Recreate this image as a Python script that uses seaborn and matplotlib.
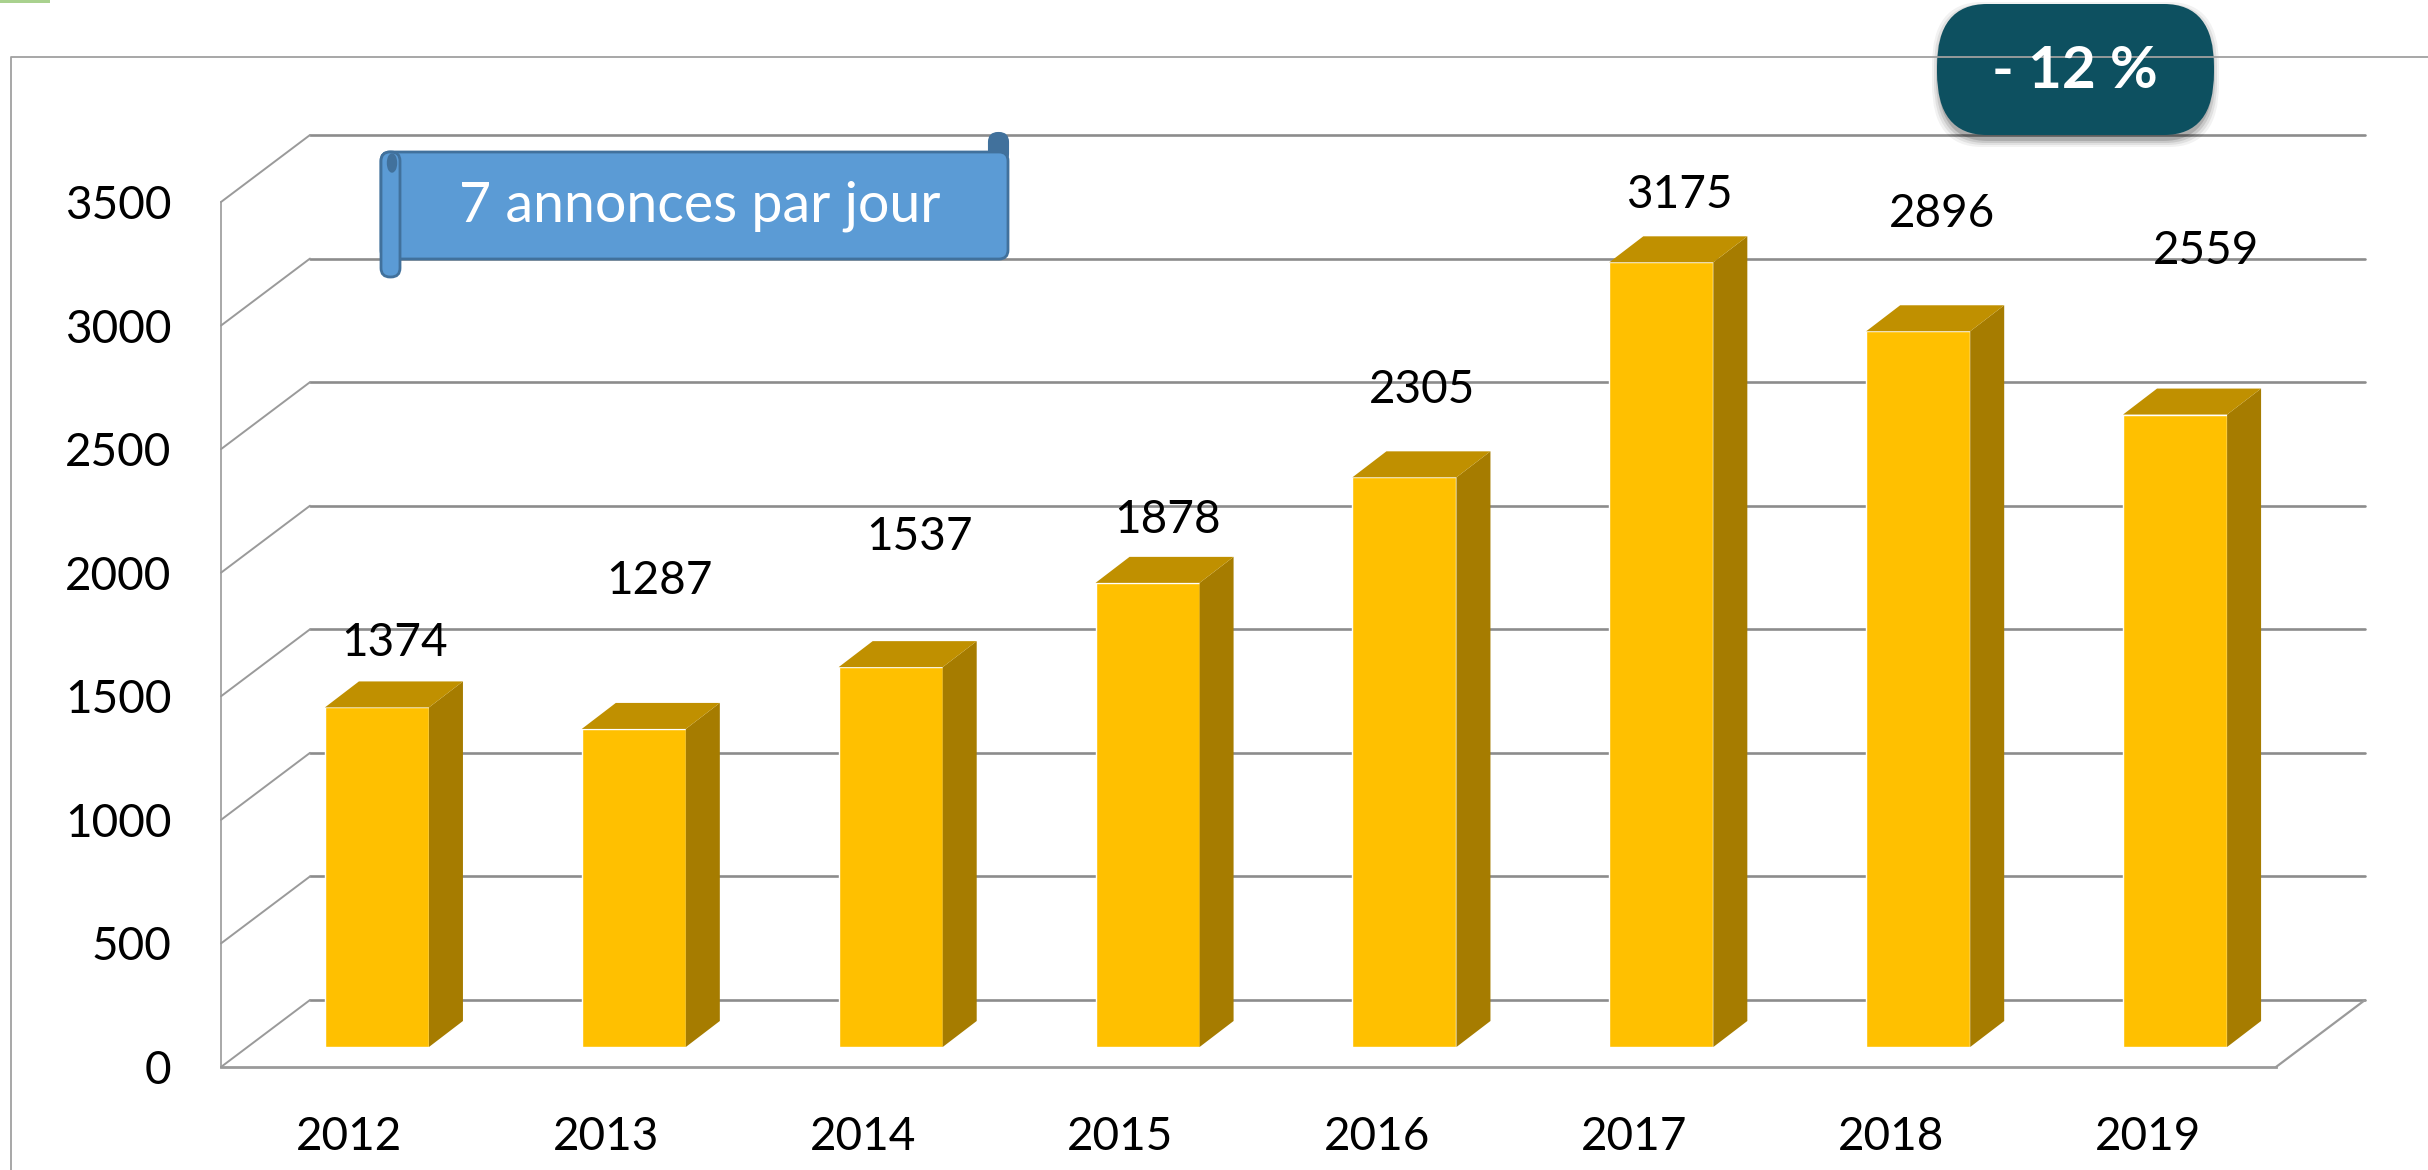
import pandas as pd
from matplotlib import pyplot as plt
from matplotlib.patches import Ellipse, FancyBboxPatch, Polygon, Rectangle
import seaborn as sns

years = ['2012', '2013', '2014', '2015', '2016', '2017', '2018', '2019']
values = [1374, 1287, 1537, 1878, 2305, 3175, 2896, 2559]
y_ticks = [0, 500, 1000, 1500, 2000, 2500, 3000, 3500]

# hand placed labels in the original, pixels from the top centre of each bar
label_dx = [18, 26, 29, 20, 18, 18, 24, 31]
label_dy = [64, 148, 130, 63, 87, 67, 117, 164]

W, H = 2428, 1170
LEFT, BASE, PLOT_W, PLOT_H = 221, 1067, 2055, 865
GREY = '#9a9a9a'
FONT = 'Lato'


def plane_axes(fig, dx, dy, zorder):
    # same scale for every depth plane, only shifted on the page
    ax = fig.add_axes([(LEFT + dx) / W, (H - BASE + dy) / H, PLOT_W / W, PLOT_H / H], zorder=zorder)
    ax.set_xlim(-0.5, len(years) - 0.5)
    ax.set_ylim(0, 3500)
    ax.patch.set_visible(False)
    return ax


def draw_back_wall(ax):
    ax.set_axis_off()
    for t in y_ticks:
        ax.axhline(t, color='#8c8c8c', lw=1.9, clip_on=False)


def draw_front_axes(ax, back_x, back_y):
    ax.set_xticks([i - 0.5 for i in range(len(years) + 1)])
    ax.set_xticklabels([])
    ax.set_xticks(range(len(years)), labels=years, minor=True)
    ax.set_yticks(y_ticks)
    ax.tick_params(axis='x', which='major', length=11.5, width=1.2, color=GREY)
    ax.tick_params(axis='x', which='minor', length=0, pad=35, labelsize=33)
    ax.tick_params(axis='y', length=11.5, width=1.2, color=GREY, pad=24, labelsize=33)
    sns.despine(ax=ax)
    ax.spines['left'].set_color(GREY)
    ax.spines['left'].set_linewidth(1.2)
    ax.spines['bottom'].set_color(GREY)
    ax.spines['bottom'].set_linewidth(2)
    for t in y_ticks:
        ax.plot([-0.5, -0.5 + back_x], [t, t + back_y], color=GREY, lw=1.4, clip_on=False)
    ax.plot([7.5, 7.5 + back_x], [0, back_y], color=GREY, lw=1.6, clip_on=False)


def draw_bars(ax, frame):
    sns.barplot(data=frame, x='year', y='value', color='#FFC000', saturation=1, width=0.405, ax=ax)
    ax.set_xlim(-0.5, len(years) - 0.5)
    ax.set_ylim(0, 3500)
    ax.set_axis_off()
    depth_x = 34 / (PLOT_W / len(years))
    depth_y = 26 / (PLOT_H / 3500)
    for bar in ax.patches:
        x0, x1 = bar.get_x(), bar.get_x() + bar.get_width()
        top = bar.get_height()
        ax.add_patch(Polygon([(x1, 0), (x1 + depth_x, depth_y), (x1 + depth_x, top + depth_y), (x1, top)],
                             facecolor='#A67C00', edgecolor='none', clip_on=False))
        ax.add_patch(Polygon([(x0, top), (x0 + depth_x, top + depth_y), (x1 + depth_x, top + depth_y), (x1, top)],
                             facecolor='#C09000', edgecolor='none', clip_on=False))
    for i, v in enumerate(values):
        ax.annotate(str(v), (i, v), xytext=(label_dx[i], label_dy[i]), textcoords='offset pixels',
                    ha='center', va='center', fontsize=33, color='black', annotation_clip=False)


def draw_decorations(ax):
    ax.set_xlim(0, W)
    ax.set_ylim(H, 0)
    ax.set_axis_off()
    ax.patch.set_visible(False)

    # frame of the slide and green scrap in the corner
    ax.plot([W, 10.5, 10.5], [57, 57, H], color='#a0a0a0', lw=1.3)
    ax.add_patch(Rectangle((0, 0), 50, 3, facecolor='#a9d18e', edgecolor='none'))

    # scroll banner
    blue, blue_edge = '#5B9BD5', '#41719C'
    ax.add_patch(FancyBboxPatch((989, 133), 19, 30, boxstyle='round,pad=0,rounding_size=9',
                                facecolor=blue_edge, edgecolor=blue_edge, lw=1.5))
    ax.add_patch(FancyBboxPatch((381, 152), 627, 107, boxstyle='round,pad=0,rounding_size=9',
                                facecolor=blue, edgecolor=blue_edge, lw=2))
    ax.add_patch(FancyBboxPatch((381, 152), 19, 125, boxstyle='round,pad=0,rounding_size=9',
                                facecolor=blue, edgecolor=blue_edge, lw=2))
    ax.add_patch(Ellipse((392, 163), 9, 18, facecolor=blue_edge, edgecolor=blue_edge, lw=1))
    ax.text(700, 206, '7 annonces par jour', color='white', fontsize=40, ha='center', va='center')

    # pill with a soft shadow
    for grow, alpha in [(7, 0.05), (5, 0.07), (3, 0.1), (1, 0.14)]:
        ax.add_patch(FancyBboxPatch((1937 - grow + 2, 4 + 5 - grow), 277 + 2 * grow - 4, 131 + 2 * grow,
                                    boxstyle='round,pad=0,rounding_size=50', mutation_aspect=1.25,
                                    facecolor='black', edgecolor='none', alpha=alpha))
    ax.add_patch(FancyBboxPatch((1937, 4), 277, 131, boxstyle='round,pad=0,rounding_size=50',
                                mutation_aspect=1.25, facecolor='#0D5060', edgecolor='none'))
    ax.text(2075, 71, '- 12 %', color='white', fontsize=42, fontweight='bold', ha='center', va='center')


def plot_chart():
    sns.set_theme(style='white')
    plt.rcParams['font.family'] = [FONT, 'DejaVu Sans']
    plt.rcParams['text.color'] = 'black'
    plt.rcParams['xtick.color'] = 'black'
    plt.rcParams['ytick.color'] = 'black'

    frame = pd.DataFrame({'year': years, 'value': values})
    fig = plt.figure(figsize=(W / 100, H / 100), dpi=100, facecolor='white')

    back_dx, back_dy = 89, 67
    ax_back = plane_axes(fig, back_dx, back_dy, 1)
    ax_front = plane_axes(fig, 0, 0, 2)
    ax_bars = plane_axes(fig, 27.5, 20, 3)
    ax_deco = fig.add_axes([0, 0, 1, 1], zorder=4)

    draw_back_wall(ax_back)
    draw_front_axes(ax_front, back_dx / (PLOT_W / len(years)), back_dy / (PLOT_H / 3500))
    draw_bars(ax_bars, frame)
    draw_decorations(ax_deco)

    fig.savefig('out.png', dpi=100)


if __name__ == '__main__':
    plot_chart()
